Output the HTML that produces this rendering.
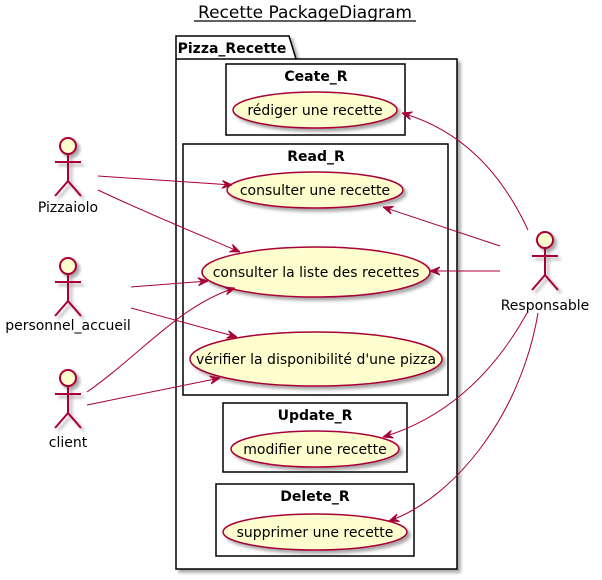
<!DOCTYPE html>
<html><head><meta charset="utf-8"><style>
html,body{margin:0;padding:0;background:#fff;}
svg{display:block;}
text{font-family:"DejaVu Sans","Liberation Sans",sans-serif;}
</style></head><body>
<svg width="602" height="580" viewBox="0 0 602 580" xmlns="http://www.w3.org/2000/svg">
<defs>
<filter id="sh" x="-10%" y="-10%" width="130%" height="130%"><feGaussianBlur in="SourceAlpha" stdDeviation="1.5"/><feOffset dx="3" dy="3"/><feComponentTransfer><feFuncA type="linear" slope="0.35"/></feComponentTransfer><feMerge><feMergeNode/><feMergeNode in="SourceGraphic"/></feMerge></filter>
<marker id="ah" viewBox="0 0 10 10" refX="10" refY="5" markerWidth="10" markerHeight="10" markerUnits="userSpaceOnUse" orient="auto"><path d="M0,1 L10,5 L0,9 L4,5 Z" fill="#A80036" stroke="#A80036" stroke-width="1"/></marker>
<g id="actor" fill="none" stroke="#A80036" stroke-width="2"><circle cx="0" cy="0" r="8" fill="#FEFECE"/><path d="M0,8 V35 M-13,16 H13 M0,35 L-13,50 M0,35 L13,50"/></g>
</defs>
<text x="305" y="18" font-size="17" text-anchor="middle" fill="#000">Recette PackageDiagram</text>
<line x1="194" y1="21" x2="416" y2="21" stroke="#000" stroke-width="1.2"/>
<g filter="url(#sh)" stroke="#000" stroke-width="1.5" fill="#fff">
<path d="M176,59 V36 H289 L296,59 H457 V569 H176 Z"/>
<rect x="226" y="64" width="179" height="71"/>
<rect x="183" y="144" width="265" height="251"/>
<rect x="223" y="403" width="184" height="69"/>
<rect x="216" y="484" width="198" height="72"/>
</g>
<line x1="176" y1="59" x2="296" y2="59" stroke="#000" stroke-width="1.5"/>
<g font-size="14" font-weight="bold" fill="#000" text-anchor="middle">
<text x="232" y="53">Pizza_Recette</text>
<text x="316" y="81">Ceate_R</text>
<text x="316" y="161">Read_R</text>
<text x="315" y="420">Update_R</text>
<text x="315" y="501">Delete_R</text>
</g>
<g filter="url(#sh)" fill="#FEFECE" stroke="#A80036" stroke-width="1.5">
<ellipse cx="315" cy="110" rx="82" ry="18"/>
<ellipse cx="315" cy="190" rx="88" ry="18"/>
<ellipse cx="316" cy="272" rx="114" ry="25"/>
<ellipse cx="316" cy="359" rx="126" ry="27"/>
<ellipse cx="315" cy="449" rx="84" ry="18"/>
<ellipse cx="315" cy="532" rx="92" ry="18"/>
</g>
<g font-size="14" fill="#000" text-anchor="middle">
<text x="315" y="115">rédiger une recette</text>
<text x="315" y="195">consulter une recette</text>
<text x="316" y="277">consulter la liste des recettes</text>
<text x="316" y="364">vérifier la disponibilité d'une pizza</text>
<text x="315" y="454">modifier une recette</text>
<text x="315" y="537">supprimer une recette</text>
</g>
<g filter="url(#sh)">
<use href="#actor" x="68" y="146"/>
<use href="#actor" x="68" y="266"/>
<use href="#actor" x="68" y="378"/>
<use href="#actor" x="545" y="240"/>
</g>
<g font-size="14" fill="#000" text-anchor="middle">
<text x="68" y="212">Pizzaiolo</text>
<text x="68" y="330">personnel_accueil</text>
<text x="68" y="447">client</text>
<text x="545" y="310">Responsable</text>
</g>
<g fill="none" stroke="#A80036" stroke-width="1" marker-end="url(#ah)">
<path d="M98,176 L232,185"/>
<path d="M98,190 C140,210 200,235 240,252"/>
<path d="M131,287 L208,281"/>
<path d="M131,308 L237,337"/>
<path d="M87,392 C140,355 180,305 235,288"/>
<path d="M87,405 L220,378"/>
<path d="M528,230 C500,170 460,130 402,113"/>
<path d="M500,246 L383,207"/>
<path d="M500,271 L430,271"/>
<path d="M527,313 C490,380 440,420 383,437"/>
<path d="M538,313 C520,420 450,500 389,521"/>
</g>
</svg>
</body></html>
